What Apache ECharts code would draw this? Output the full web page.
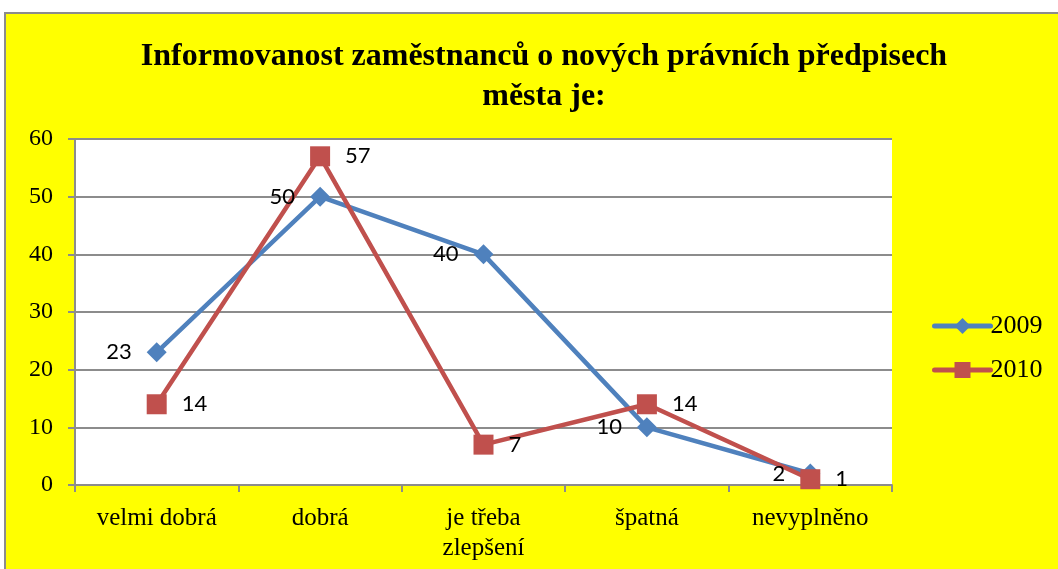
<!DOCTYPE html>
<html>
<head>
<meta charset="utf-8">
<script src="https://cdn.jsdelivr.net/npm/echarts@6/dist/echarts.min.js"></script>
<style>
  html, body { margin: 0; padding: 0; background: #fff; }
  #chart {
    position: absolute; left: 4px; top: 12px;
    width: 1052px; height: 555px;
    border-left: 2px solid #8c8c8c; border-top: 2px solid #8c8c8c;
    background: #ffff00;
  }
</style>
</head>
<body>
<div id="chart"></div>
<script>
// kategorie na ose x
const categories = ['velmi dobrá', 'dobrá', 'je třeba\nzlepšení', 'špatná', 'nevyplněno']
// hodnoty řad
const values2009 = [23, 50, 40, 10, 2]
const values2010 = [14, 57, 7, 14, 1]
const yTicks = { min: 0, max: 60, interval: 10 }

const chart = echarts.init(document.getElementById('chart'))

const serif = '"Liberation Serif", "Times New Roman", serif'
const labelFont = { fontFamily: 'Lato, "Noto Sans", sans-serif', fontSize: 22, color: '#000' }

const option = {
  backgroundColor: '#ffff00',
  animation: false,
  title: {
    text: 'Informovanost zaměstnanců o nových právních předpisech\nměsta je:',
    left: 533,
    textAlign: 'center',
    top: 18,
    textStyle: {
      fontFamily: serif,
      fontWeight: 'bold',
      fontSize: 32,
      lineHeight: 40,
      color: '#000'
    }
  },
  legend: {
    orient: 'vertical',
    left: 921,
    top: 294,
    itemGap: 18,
    itemWidth: 56,
    itemHeight: 20,
    lineStyle: { width: 5, cap: 'round' },
    textStyle: { fontFamily: serif, fontSize: 26, color: '#000', padding: [0, 0, 0, -5] },
    data: ['2009', '2010']
  },
  grid: {
    left: 69,
    right: 166,
    top: 125,
    bottom: 84,
    show: true,
    backgroundColor: '#fff',
    borderWidth: 0
  },
  xAxis: {
    type: 'category',
    data: categories,
    boundaryGap: true,
    axisLine: { lineStyle: { color: '#8c8c8c', width: 2 } },
    axisTick: { show: true, length: 7, lineStyle: { color: '#8c8c8c', width: 2 } },
    axisLabel: {
      fontFamily: serif, fontSize: 25, color: '#000', margin: 18, lineHeight: 30,
      interval: 0
    }
  },
  yAxis: {
    type: 'value',
    min: yTicks.min,
    max: yTicks.max,
    interval: yTicks.interval,
    axisLine: { show: true, lineStyle: { color: '#8c8c8c', width: 2 } },
    axisTick: { show: true, length: 7, lineStyle: { color: '#8c8c8c', width: 2 } },
    splitLine: { lineStyle: { color: '#8c8c8c', width: 2 } },
    axisLabel: { fontFamily: serif, fontSize: 24, color: '#000', margin: 22 }
  },
  series: [
    {
      name: '2009',
      type: 'line',
      data: values2009,
      symbol: 'diamond',
      symbolSize: 20,
      lineStyle: { color: '#4f81bd', width: 4.5 },
      itemStyle: { color: '#4f81bd' },
      label: { show: true, position: 'left', distance: 15, ...labelFont }
    },
    {
      name: '2010',
      type: 'line',
      data: values2010,
      symbol: 'rect',
      symbolSize: 20,
      lineStyle: { color: '#c0504d', width: 4.5 },
      itemStyle: { color: '#c0504d' },
      label: { show: true, position: 'right', distance: 15, ...labelFont }
    }
  ]
}

chart.setOption(option)
</script>
</body>
</html>
